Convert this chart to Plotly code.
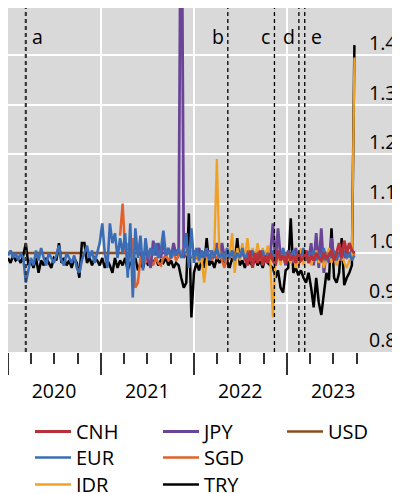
import pandas as pd
import plotly.graph_objects as go

# ---------------- data (10-day sampling, all series end on the same date) -------------
grid_start = "2020-01-01"
grid_len = 137

eur_values = [
    0.995, 1.005, 0.99, 1.0, 0.985, 1.0, 0.99, 0.94, 0.965, 0.99,
    0.975, 1.005, 0.985, 1.01, 0.99, 0.975, 1.0, 0.99, 0.98, 0.995,
    1.015, 0.985, 0.975, 1.0, 0.99, 0.98, 0.995, 0.97, 0.96, 0.985,
    1.0, 1.015, 0.99, 1.005, 0.98, 1.0, 1.02, 1.06, 1.0, 0.97,
    1.06, 1.02, 1.04, 0.99, 1.03, 1.0, 1.04, 0.95, 1.06, 0.91,
    1.05, 0.99, 1.035, 0.965, 1.03, 0.99, 1.01, 0.995, 1.02, 0.99,
    1.005, 1.045, 0.995, 1.01, 0.99, 1.005, 0.995, 1.01, 0.99, 1.0,
    1.04, 0.97, 1.05, 0.98, 1.01, 0.985, 1.005, 0.99, 1.01, 0.985,
    1.005, 0.99, 1.01, 0.99, 1.0, 0.985, 1.01, 0.99, 1.005, 0.985,
    1.0, 0.99, 1.01, 0.985, 1.0, 0.99, 1.005, 0.985, 1.0, 0.99,
    1.005, 0.985, 1.0, 0.99, 1.005, 0.985, 1.0, 0.99, 1.01, 0.985,
    1.0, 0.99, 1.005, 0.985, 1.0, 0.99, 1.01, 0.985, 1.0, 0.995,
    1.005, 0.985, 1.0, 0.99, 1.01, 0.985, 1.0, 0.99, 1.005, 0.985,
    1.0, 0.99, 1.005, 0.99, 1.0, 0.985, 0.995,
]
try_values = [
    0.99, 0.98, 0.995, 0.985, 0.99, 0.98, 0.995, 1.02, 0.975, 0.985,
    0.97, 0.99, 0.96, 0.985, 0.975, 0.99, 0.98, 0.97, 0.99, 0.985,
    1.02, 0.98, 0.99, 0.975, 0.985, 0.97, 0.99, 0.98, 0.95, 1.02,
    1.02, 0.98, 0.99, 0.975, 0.99, 0.985, 0.975, 0.99, 0.97, 0.985,
    0.975, 0.96, 0.99, 0.97, 0.985, 0.975, 0.99, 0.965, 0.98, 0.975,
    0.99, 0.965, 0.98, 0.97, 0.99, 0.975, 0.985, 0.98, 0.99, 0.975,
    0.985, 0.98, 0.99, 0.975, 0.985, 0.97, 0.98, 0.975, 0.95, 0.93,
    0.94, 1.08, 0.87, 0.96, 0.98, 0.965, 0.985, 0.97, 1.03, 0.975,
    0.985, 0.97, 0.99, 0.98, 0.99, 0.975, 0.985, 0.97, 0.99, 0.98,
    1.03, 0.975, 0.985, 0.97, 0.99, 0.98, 0.975, 0.99, 0.975, 0.985,
    0.97, 0.99, 0.98, 0.975, 0.97, 0.95, 0.965, 0.93, 0.92, 0.965,
    0.97, 1.07, 0.96, 0.97, 0.955, 0.965, 0.95, 0.94, 0.96, 0.93,
    0.89, 0.95, 0.90, 0.875, 0.92, 0.96, 0.945, 1.05, 0.95, 0.94,
    0.96, 1.03, 0.935, 0.95, 0.96, 0.975, 1.42,
]
jpy_values = [
    0.995, 1.0, 0.99, 1.005, 0.985, 0.97, 1.025, 0.995, 1.02, 0.99,
    1.025, 0.995, 1.01, 0.99, 1.02, 0.995, 1.01, 1.9, 0.99, 1.0,
    1.0, 0.99, 1.005, 0.995, 1.01, 0.99, 1.0, 0.995, 1.005, 0.99,
    1.0, 1.02, 0.995, 1.02, 0.99, 1.005, 0.995, 1.0, 0.99, 1.005,
    0.995, 1.0, 0.99, 1.005, 0.995, 1.0, 0.99, 1.005, 0.995, 1.0,
    0.99, 1.005, 0.995, 1.06, 0.98, 1.05, 0.99, 1.0, 0.975, 1.005,
    0.99, 0.98, 1.01, 0.975, 1.0, 0.99, 1.005, 0.985, 1.02, 0.975,
    1.04, 0.97, 1.05, 0.96, 1.0, 0.98, 1.03, 0.99, 1.0, 0.985,
    1.01, 0.99, 1.0, 0.995, 1.005, 1.0,
]
sgd_values = [
    1.035, 1.10, 1.0, 1.02, 0.99, 1.03, 0.93, 0.94, 0.99, 1.0,
    0.98, 1.0, 0.985, 0.975, 0.99, 0.98, 0.975, 0.99, 0.995, 0.985,
    0.99, 1.0, 0.985, 0.995, 1.0, 1.01, 1.02, 0.99, 1.0, 0.995,
    0.99, 1.0, 0.985, 0.995, 0.99, 1.0, 0.985, 0.995, 0.99, 1.0,
    0.985, 0.97, 0.995, 0.99, 1.0, 0.985, 0.995, 0.99, 1.0, 0.99,
    0.995, 0.985, 1.0, 0.99, 0.995, 0.985, 1.0, 0.99, 0.995, 0.985,
    1.0, 0.99, 0.995, 0.985, 1.0, 0.99, 0.995, 0.985, 1.0, 0.99,
    0.995, 0.985, 1.0, 0.99, 0.995, 0.985, 1.0, 0.99, 0.995, 0.985,
    1.0, 0.99, 0.995, 0.985, 1.0, 0.99, 0.995, 0.985, 1.0, 0.99,
    0.995, 0.99, 1.0,
]
idr_values = [
    1.0, 0.99, 1.005, 0.985, 1.0, 0.98, 0.99, 0.94, 0.985, 1.0,
    0.995, 1.01, 1.19, 0.99, 1.0, 0.985, 1.01, 0.995, 1.04, 0.96,
    1.01, 0.985, 1.02, 0.99, 1.03, 0.985, 1.01, 0.99, 1.02, 0.985,
    1.01, 0.99, 1.015, 0.98, 0.87, 0.99, 1.0, 0.975, 1.01, 0.985,
    0.99, 0.98, 1.0, 0.97, 0.985, 1.01, 0.975, 0.99, 1.0, 0.975,
    0.99, 1.005, 0.98, 0.995, 0.97, 0.99, 1.01, 0.98, 0.995, 0.975,
    0.99, 1.0, 0.98, 0.97, 0.985, 0.99, 1.395,
]
cnh_values = [
    0.99, 0.975, 1.005, 0.97, 1.0, 0.98, 1.005, 0.975, 0.995, 0.98,
    1.0, 0.985, 0.975, 1.005, 0.985, 0.995, 0.98, 1.0, 0.985, 0.995,
    0.98, 1.0, 0.985, 0.99, 1.005, 0.98, 0.995, 0.985, 1.0, 0.99,
    0.985, 1.0, 0.99, 0.995, 1.005, 0.985, 1.0, 1.02, 0.99, 1.025,
    1.0, 1.02, 1.005, 1.0,
]
usd_dates = ["2020-01-01", "2023-09-22"]
usd_values = [1.0, 1.0]

event_labels = ["a", "b", "c", "d", "e"]
event_dates = ["2020-03-11", "2022-05-13", "2022-11-12", "2023-02-16", "2023-03-11"]

year_starts = ["2020-01-01", "2021-01-01", "2022-01-01", "2023-01-01"]
year_labels = ["2020", "2021", "2022", "2023"]
y_ticks = [0.8, 0.9, 1.0, 1.1, 1.2, 1.3, 1.4]
y_labels = ["0.8", "0.9", "1.0", "1.1", "1.2", "1.3", "1.4"]

# ---------------------------------------------------------------------------------------
dates_all = pd.date_range(grid_start, periods=grid_len, freq="10D")
quarters = [d.strftime("%Y-%m-%d") for d in pd.date_range("2020-01-01", "2023-10-01", freq="QS")]

FONT = "Open Sans"
W, H = 392, 486   # page body margin (8px) takes the rest of the 400x494 window

series = [
    # name, dates, values, colour, width, legend box, rank
    ("USD", list(usd_dates), usd_values, "#8c4b1c", 2.5, "legend4", 1),
    ("TRY", dates_all[-len(try_values):], try_values, "#000000", 2.5, "legend3", 2),
    ("SGD", dates_all[-len(sgd_values):], sgd_values, "#e0622a", 2.5, "legend2", 2),
    ("JPY", dates_all[-len(jpy_values):], jpy_values, "#6a4597", 2.8, "legend", 2),
    ("IDR", dates_all[-len(idr_values):], idr_values, "#f0a025", 2.3, "legend3", 1),
    ("EUR", dates_all[-len(eur_values):], eur_values, "#3a6db5", 2.6, "legend2", 1),
    ("CNH", dates_all[-len(cnh_values):], cnh_values, "#b8313a", 3.0, "legend", 1),
]

fig = go.Figure()
for name, d, v, col, w, leg, rank in series:
    xs = [pd.Timestamp(t).strftime("%Y-%m-%d") for t in d]
    fig.add_trace(go.Scatter(
        x=xs, y=v, mode="lines", name=name,
        line=dict(color=col, width=w),
        legend=leg, legendrank=rank,
    ))

# reference line at 1.0
fig.add_shape(type="line", xref="paper", x0=0, x1=1, yref="y", y0=1.0, y1=1.0,
              line=dict(color="black", width=1.5), layer="between")

# event lines + labels
for lab, dt in zip(event_labels, event_dates):
    if lab == "a":
        ln = dict(color="#3a3a3a", width=2.2, dash="4px,3px")
    else:
        ln = dict(color="black", width=1.3, dash="4px,3px")
    fig.add_shape(type="line", xref="x", x0=dt, x1=dt, yref="paper", y0=0, y1=1,
                  line=ln, layer="above")
    right = lab in ("b", "c", "d")
    fig.add_annotation(x=dt, xref="x", y=0.918, yref="paper", yanchor="middle",
                       text=lab, showarrow=False,
                       xanchor="right" if right else "left",
                       xshift=-2 if right else 4,
                       font=dict(family=FONT, size=19.5, color="black"))

# right-hand value labels, drawn inside the grey panel, sitting just above their gridline
for val, txt in zip(y_ticks, y_labels):
    fig.add_annotation(x=1, xref="paper", y=val, yref="y", yanchor="middle",
                       xanchor="right", xshift=-1, yshift=12.5, text=txt,
                       showarrow=False,
                       font=dict(family=FONT, size=19.5, color="black"))

fig.update_layout(
    width=W, height=H,
    margin=dict(l=0, r=1, t=0, b=142, autoexpand=False),
    paper_bgcolor="white", plot_bgcolor="#d9d9d9",
    font=dict(family=FONT, size=19.5, color="black"),
    showlegend=True,
    xaxis=dict(
        type="date", range=["2020-01-01", "2024-03-15"],
        tickmode="array", tickvals=year_starts, ticktext=year_labels,
        ticklabelshift=46,
        ticks="outside", ticklen=22, tickwidth=1.6, tickcolor="#333",
        showgrid=True, gridcolor="white", gridwidth=2,
        showline=False, zeroline=False, automargin=False,
        tickfont=dict(family=FONT, size=19.5, color="black"),
        minor=dict(tickmode="array", tickvals=quarters, ticks="outside",
                   ticklen=11, tickwidth=1.6, tickcolor="#333", showgrid=False),
        fixedrange=True,
    ),
    yaxis=dict(
        side="right", range=[0.8, 1.495],
        tickmode="array", tickvals=y_ticks, showticklabels=False, ticks="",
        showgrid=True, gridcolor="white", gridwidth=1.6,
        zeroline=False, showline=False, automargin=False,
        fixedrange=True,
    ),
)

row_tops = [404, 430, 457]
leg_common = dict(orientation="h", xref="container", yref="container",
                  yanchor="top", xanchor="left",
                  bgcolor="rgba(0,0,0,0)",
                  font=dict(family=FONT, size=20, color="black"),
                  itemwidth=36, entrywidth=77, entrywidthmode="pixels")
fig.update_layout(
    legend=dict(x=22 / W, y=1 - row_tops[0] / H, **leg_common),
    legend2=dict(x=22 / W, y=1 - row_tops[1] / H, **leg_common),
    legend3=dict(x=22 / W, y=1 - row_tops[2] / H, **leg_common),
    legend4=dict(x=274 / W, y=1 - row_tops[0] / H, **leg_common),
)

fig.write_html("out.html")
